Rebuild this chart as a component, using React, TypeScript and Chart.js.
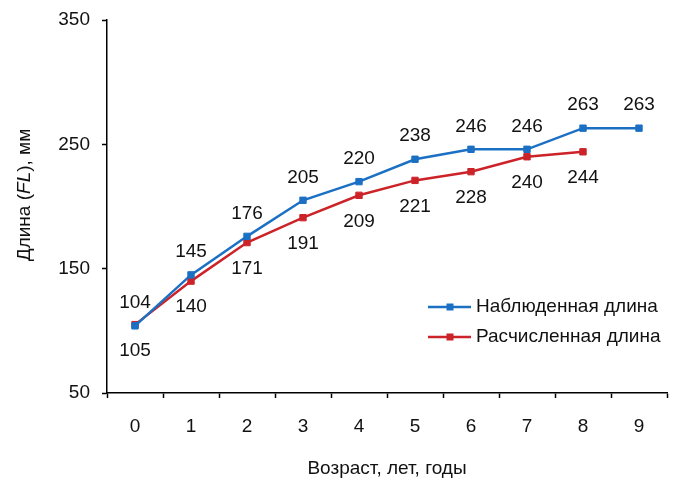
import React, { useEffect, useRef } from "react";
import { Chart, registerables } from "chart.js";

Chart.register(...registerables);

const categories = ["0", "1", "2", "3", "4", "5", "6", "7", "8", "9"];
const observed = [104, 145, 176, 205, 220, 238, 246, 246, 263, 263];
const calculated = [105, 140, 171, 191, 209, 221, 228, 240, 244];
const seriesNames = ["Наблюденная длина", "Расчисленная длина"];
const xTitle = "Возраст, лет, годы";
const yTitleParts = ["Длина (", "FL", "), мм"];

const BLUE = "#1b70c4";
const RED = "#cc2329";
const FONT = "'Liberation Sans', Arial, sans-serif";
const FS = 19;

const dataLabels = {
  id: "dataLabels",
  afterDatasetsDraw(chart: any) {
    const ctx = chart.ctx;
    ctx.save();
    ctx.font = `${FS}px ${FONT}`;
    ctx.fillStyle = "#111";
    ctx.textAlign = "center";
    ctx.textBaseline = "middle";
    chart.data.datasets.forEach((ds: any, i: number) => {
      const meta = chart.getDatasetMeta(i);
      meta.data.forEach((pt: any, j: number) => {
        const v = ds.data[j];
        const dy = i === 0 ? -23 : 26;
        ctx.fillText(String(v), pt.x, pt.y + dy);
      });
    });
    ctx.restore();
  },
};

const customDecor = {
  id: "customDecor",
  afterDraw(chart: any) {
    const ctx = chart.ctx;
    ctx.save();
    ctx.fillStyle = "#111";
    const fonts = [`${FS}px ${FONT}`, `italic ${FS}px ${FONT}`, `${FS}px ${FONT}`];
    let total = 0;
    const widths = yTitleParts.map((t, k) => {
      ctx.font = fonts[k];
      const w = ctx.measureText(t).width;
      total += w;
      return w;
    });
    ctx.translate(25, 195);
    ctx.rotate(-Math.PI / 2);
    ctx.textBaseline = "middle";
    ctx.textAlign = "left";
    let x = -total / 2;
    yTitleParts.forEach((t, k) => {
      ctx.font = fonts[k];
      ctx.fillText(t, x, 0);
      x += widths[k];
    });
    ctx.restore();

    // Legend
    ctx.save();
    const colors = [BLUE, RED];
    const rows = [307, 337];
    ctx.font = `${FS}px ${FONT}`;
    ctx.textBaseline = "middle";
    ctx.textAlign = "left";
    seriesNames.forEach((name, k) => {
      const y = rows[k];
      ctx.strokeStyle = colors[k];
      ctx.lineWidth = 2.5;
      ctx.beginPath();
      ctx.moveTo(428, y);
      ctx.lineTo(471, y);
      ctx.stroke();
      ctx.fillStyle = colors[k];
      ctx.fillRect(446.5, y - 3.5, 7, 7);
      ctx.fillStyle = "#111";
      ctx.fillText(name, 476, y);
    });
    ctx.restore();
  },
};

export default function App() {
  const ref = useRef<HTMLCanvasElement>(null);
  useEffect(() => {
    if (!ref.current) return;
    const chart = new Chart(ref.current, {
      type: "line",
      data: {
        labels: categories,
        datasets: [
          {
            label: seriesNames[0],
            data: observed,
            borderColor: BLUE,
            backgroundColor: BLUE,
            borderWidth: 2.5,
            pointStyle: "rect",
            pointRadius: 4.5,
            pointBorderWidth: 1,
            pointBackgroundColor: BLUE,
            pointBorderColor: BLUE,
            tension: 0,
          },
          {
            label: seriesNames[1],
            data: calculated,
            borderColor: RED,
            backgroundColor: RED,
            borderWidth: 2.5,
            pointStyle: "rect",
            pointRadius: 4.5,
            pointBorderWidth: 1,
            pointBackgroundColor: RED,
            pointBorderColor: RED,
            tension: 0,
          },
        ],
      },
      options: {
        responsive: false,
        animation: false,
        layout: { padding: { left: 0, right: 13, top: 20, bottom: 0 } },
        plugins: {
          legend: { display: false },
          tooltip: { enabled: false },
        },
        scales: {
          x: {
            type: "category",
            offset: true,
            grid: {
              offset: true,
              drawOnChartArea: false,
              drawTicks: true,
              tickLength: 5,
              tickColor: "#000",
              tickWidth: 1.5,
            },
            border: { display: true, color: "#000", width: 1.5 },
            ticks: {
              color: "#111",
              font: { size: FS, family: FONT },
              padding: 17,
              maxRotation: 0,
            },
            title: {
              display: true,
              text: xTitle,
              color: "#111",
              font: { size: FS, family: FONT },
              padding: { top: 0, bottom: 2 },
            },
            afterFit: (s: any) => {
              s.height = 89;
              s.paddingLeft = 0;
              s.paddingRight = 0;
            },
          },
          y: {
            min: 50,
            max: 350,
            grid: {
              drawOnChartArea: false,
              drawTicks: true,
              tickLength: 5,
              tickColor: "#000",
              tickWidth: 1.5,
            },
            border: { display: true, color: "#000", width: 1.5 },
            ticks: {
              stepSize: 100,
              color: "#111",
              font: { size: FS, family: FONT },
              padding: 12,
            },
            afterFit: (s: any) => {
              s.width = 107;
              s.paddingTop = 0;
              s.paddingBottom = 0;
            },
          },
        },
      },
      plugins: [dataLabels, customDecor],
    } as any);
    return () => chart.destroy();
  }, []);
  return (
    <div style={{ position: "fixed", left: 0, top: 0, width: 680, height: 482, background: "#fff" }}>
      <canvas ref={ref} width={680} height={482} />
    </div>
  );
}
